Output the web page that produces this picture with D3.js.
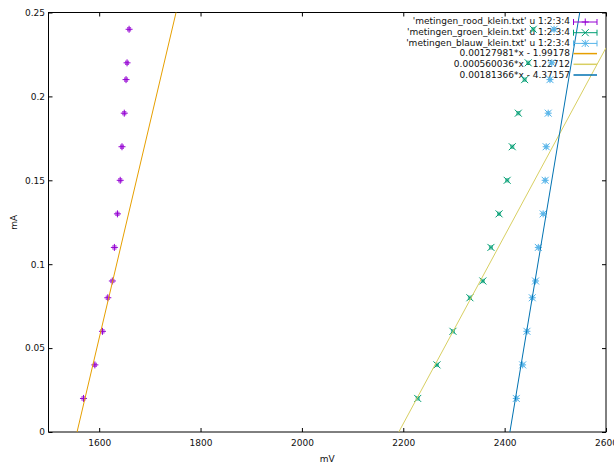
<!DOCTYPE html>
<html>
<head>
<meta charset="utf-8">
<script src="https://cdn.jsdelivr.net/npm/d3@7"></script>
<style>
  html, body { margin: 0; padding: 0; background: #fff; }
  svg { display: block; }
  text { font-family: "DejaVu Sans", sans-serif; font-size: 9px; fill: #111; }
</style>
</head>
<body>
<svg id="chart" width="614" height="466"></svg>
<script>
// ---- data ----
const yValues = [0.02, 0.04, 0.06, 0.08, 0.09, 0.11, 0.13, 0.15, 0.17, 0.19, 0.21, 0.22, 0.24];
const roodX  = [1569, 1591.5, 1606.5, 1617, 1626, 1630, 1636, 1641.5, 1645, 1649.5, 1653, 1655, 1659];
const groenX = [2228.5, 2266.5, 2298, 2331.5, 2357, 2373, 2389, 2405, 2415, 2427, 2439.5, 2446.5, 2456.5];
const blauwX = [2423, 2435.5, 2444, 2454.5, 2461, 2466.5, 2476, 2480, 2482, 2486, 2489.5, 2493, 2497.5];
const xErr = 3;      // mV
const yErr = 0.001;  // mA

const fitSlopes     = [0.00127981, 0.000560036, 0.00181366];
const fitIntercepts = [-1.99178, -1.22712, -4.37157];

const xTicks = [1600, 1800, 2000, 2200, 2400, 2600];
const yTicks = [0, 0.05, 0.1, 0.15, 0.2, 0.25];
const xTickLabels = ["1600", "1800", "2000", "2200", "2400", "2600"];
const yTickLabels = ["0", "0.05", "0.1", "0.15", "0.2", "0.25"];

const legendLabels = [
  "'metingen_rood_klein.txt' u 1:2:3:4",
  "'metingen_groen_klein.txt' u 1:2:3:4",
  "'metingen_blauw_klein.txt' u 1:2:3:4",
  "0.00127981*x - 1.99178",
  "0.000560036*x - 1.22712",
  "0.00181366*x - 4.37157"
];

// ---- styles ----
const pointColors = ["#9400d3", "#009e73", "#56b4e9"];
const lineColors  = ["#e69f00", "#d8cf62", "#0072b2"];
const markerTypes = ["plus", "cross", "star"];

const svg = d3.select("#chart");
const L = 48.5, R = 606, T = 12.5, B = 432;

const x = d3.scaleLinear().domain([1500, 2600]).range([L, R]);
const y = d3.scaleLinear().domain([0, 0.25]).range([B, T]);

svg.append("defs").append("clipPath").attr("id", "clip")
  .append("rect").attr("x", L).attr("y", T).attr("width", R - L).attr("height", B - T);

// axes (ticks inward, mirrored)
const tickLen = 4;
const axisStyle = g => {
  g.select(".domain").remove();
  g.selectAll(".tick line").attr("stroke", "#000").attr("stroke-width", 1);
};
svg.append("g").attr("transform", `translate(0,${B})`)
  .call(d3.axisBottom(x).tickValues(xTicks).tickSize(-tickLen).tickPadding(8)
    .tickFormat((d, i) => xTickLabels[i]))
  .call(axisStyle)
  .call(g => g.selectAll("text").attr("font-family", "DejaVu Sans").attr("font-size", 9).attr("fill", "#111"));
svg.append("g").attr("transform", `translate(0,${T})`)
  .call(d3.axisTop(x).tickValues(xTicks).tickSize(-tickLen).tickFormat(""))
  .call(axisStyle);
svg.append("g").attr("transform", `translate(${L},0)`)
  .call(d3.axisLeft(y).tickValues(yTicks).tickSize(-tickLen).tickPadding(3.5)
    .tickFormat((d, i) => yTickLabels[i]))
  .call(axisStyle)
  .call(g => g.selectAll("text").attr("font-family", "DejaVu Sans").attr("font-size", 9).attr("fill", "#111"));
svg.append("g").attr("transform", `translate(${R},0)`)
  .call(d3.axisRight(y).tickValues(yTicks).tickSize(-tickLen).tickFormat(""))
  .call(axisStyle);

// frame
svg.append("rect").attr("x", L).attr("y", T).attr("width", R - L).attr("height", B - T)
  .attr("fill", "none").attr("stroke", "#000").attr("stroke-width", 1);

// axis titles
svg.append("text").attr("x", (L + R) / 2).attr("y", 462).attr("text-anchor", "middle").text("mV");
svg.append("text").attr("transform", `translate(17,${(T + B) / 2}) rotate(-90)`)
  .attr("text-anchor", "middle").text("mA");

// legend text
const legX = 570, legY0 = 21, legDy = 10.7;
const sampleX1 = 573.5, sampleX2 = 597;
legendLabels.forEach((t, i) => {
  svg.append("text").attr("x", legX).attr("y", legY0 + i * legDy).attr("dy", "0.35em")
    .attr("text-anchor", "end").attr("font-size", 8.5).text(t);
});

function marker(g, type, cx, cy, color) {
  const s = 3.5;
  let d;
  if (type === "plus") d = `M${cx - s},${cy}H${cx + s}M${cx},${cy - s}V${cy + s}`;
  else if (type === "cross") d = `M${cx - s},${cy - s}L${cx + s},${cy + s}M${cx - s},${cy + s}L${cx + s},${cy - s}`;
  else d = `M${cx - s},${cy}H${cx + s}M${cx},${cy - s}V${cy + s}M${cx - s},${cy - s}L${cx + s},${cy + s}M${cx - s},${cy + s}L${cx + s},${cy - s}`;
  g.append("path").attr("d", d).attr("stroke", color).attr("stroke-width", 1).attr("fill", "none");
}

const plotG = svg.append("g");
const series = [roodX, groenX, blauwX];
series.forEach((xs, si) => {
  const color = pointColors[si];
  const g = plotG.append("g").attr("clip-path", "url(#clip)");
  xs.forEach((xv, i) => {
    const cx = x(xv), cy = y(yValues[i]);
    const x0 = x(xv - xErr), x1 = x(xv + xErr), y0 = y(yValues[i] - yErr), y1 = y(yValues[i] + yErr);
    const c = 2;
    const d = `M${x0},${cy}H${x1}M${x0},${cy - c}V${cy + c}M${x1},${cy - c}V${cy + c}` +
              `M${cx},${y0}V${y1}M${cx - c},${y0}H${cx + c}M${cx - c},${y1}H${cx + c}`;
    g.append("path").attr("d", d).attr("stroke", color).attr("stroke-width", 0.8).attr("fill", "none").attr("opacity", 0.7);
    marker(g, markerTypes[si], cx, cy, color);
  });
  // legend sample
  const ly = legY0 + si * legDy + 1;
  svg.append("path")
    .attr("d", `M${sampleX1},${ly}H${sampleX2}M${sampleX1},${ly - 3}V${ly + 3}M${sampleX2},${ly - 3}V${ly + 3}`)
    .attr("stroke", color).attr("stroke-width", 1).attr("fill", "none");
  marker(svg, markerTypes[si], (sampleX1 + sampleX2) / 2, ly, color);
});

// fit lines
const line = d3.line().x(d => x(d[0])).y(d => y(d[1]));
fitSlopes.forEach((a, i) => {
  const b = fitIntercepts[i];
  const dom = x.domain();
  const pts = [[dom[0], a * dom[0] + b], [dom[1], a * dom[1] + b]];
  plotG.append("path").datum(pts).attr("d", line).attr("clip-path", "url(#clip)")
    .attr("stroke", lineColors[i]).attr("stroke-width", 1).attr("fill", "none");
  const ly = legY0 + (i + 3) * legDy + 0.5;
  svg.append("line").attr("x1", sampleX1).attr("x2", sampleX2).attr("y1", ly).attr("y2", ly)
    .attr("stroke", lineColors[i]).attr("stroke-width", 1.5);
});
</script>
</body>
</html>
